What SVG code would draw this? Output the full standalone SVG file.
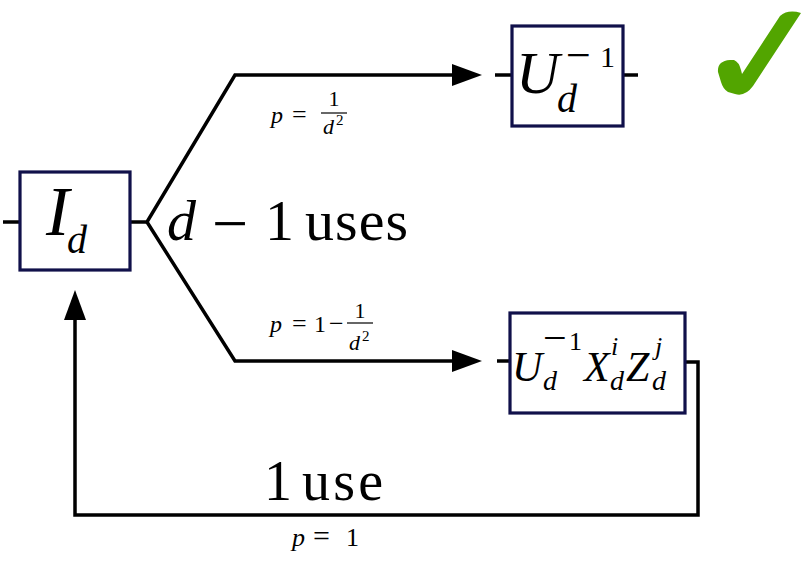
<svg xmlns="http://www.w3.org/2000/svg" width="810" height="563" viewBox="0 0 810 563">
<style>
.box{fill:#fff;stroke:#10104a;stroke-width:3.2}
.ln{fill:none;stroke:#000;stroke-width:3.5}
.it{font-family:"Liberation Serif",serif;font-style:italic;fill:#000}
.rm{font-family:"Liberation Serif",serif;fill:#000}
.bar{stroke:#000;stroke-width:1.2}
</style>
<defs>
<marker id="ah" markerUnits="userSpaceOnUse" viewBox="0 0 30 22" refX="4" refY="11" markerWidth="30" markerHeight="22" orient="auto">
<path d="M0,0 L30,11 L0,22 Z" fill="#000"/>
</marker>
</defs>
<rect width="810" height="563" fill="#fff"/>
<g id="connectors">
<path class="ln" d="M3 222 H20"/>
<path class="ln" d="M130 222 H147 L235 75 H456" marker-end="url(#ah)"/>
<path class="ln" d="M147 222 L235 361 H456" marker-end="url(#ah)"/>
<path class="ln" d="M495 75 H512"/>
<path class="ln" d="M623 75 H638"/>
<path class="ln" d="M497 361 H510"/>
<path class="ln" d="M685 362 H698 V515 H75 V316" marker-end="url(#ah)"/>
</g>
<g id="node-Id">
<rect class="box" x="20" y="172" width="110" height="98"/>
<text class="it" x="46" y="235" font-size="70">I</text>
<text class="it" x="67" y="253" font-size="40">d</text>
</g>
<g id="node-Uinv">
<rect class="box" x="512" y="26" width="111" height="100"/>
<text class="it" x="516" y="93" font-size="60">U</text>
<text class="rm" x="566" y="70" font-size="44">−</text>
<text class="rm" x="600" y="67" font-size="30">1</text>
<text class="it" x="557" y="112" font-size="40">d</text>
</g>
<g id="node-UXZ">
<rect class="box" x="510" y="313" width="175" height="100"/>
<text class="it" x="512" y="381" font-size="42">U</text>
<text class="rm" x="543" y="352" font-size="42">−</text>
<text class="rm" x="569" y="350" font-size="26">1</text>
<text class="it" x="543" y="390" font-size="28">d</text>
<text class="it" x="584" y="381" font-size="42">X</text>
<text class="it" x="611" y="355" font-size="26">i</text>
<text class="it" x="610" y="390" font-size="28">d</text>
<text class="it" x="626" y="381" font-size="42">Z</text>
<text class="it" x="655" y="355" font-size="26">j</text>
<text class="it" x="652" y="390" font-size="28">d</text>
</g>
<g id="check">
<path fill="#52a500" d="M718 72 Q717 61 730 60 L734 60 Q739 62 741 70 L742 74 L780 16 Q788 9 801 13 L753 86 Q745 97 735 94 L728 92 Q723 89 721 82 Z"/>
</g>
<g id="labels">
<text class="it" x="167" y="240" font-size="58">d</text>
<text class="rm" x="212" y="245" font-size="64">−</text>
<text class="rm" x="265" y="240" font-size="58">1</text>
<text class="rm" x="305" y="240" font-size="58" textLength="103">uses</text>

<text class="it" x="271" y="123" font-size="24">p</text>
<text class="rm" x="292" y="123" font-size="26">=</text>
<text class="rm" x="334" y="106" font-size="22" text-anchor="middle">1</text>
<line class="bar" x1="321" y1="113" x2="347" y2="113"/>
<text class="it" x="323" y="134" font-size="22">d</text>
<text class="rm" x="336" y="125" font-size="15">2</text>

<text class="it" x="270" y="332" font-size="24">p</text>
<text class="rm" x="292" y="332" font-size="26">=</text>
<text class="rm" x="314" y="332" font-size="24">1</text>
<text class="rm" x="329" y="332" font-size="26">−</text>
<text class="rm" x="360" y="318" font-size="22" text-anchor="middle">1</text>
<line class="bar" x1="347" y1="323" x2="373" y2="323"/>
<text class="it" x="349" y="350" font-size="22">d</text>
<text class="rm" x="362" y="341" font-size="15">2</text>

<text class="rm" x="264" y="500" font-size="56">1</text>
<text class="rm" x="302" y="500" font-size="56" textLength="81">use</text>

<text class="it" x="292" y="546" font-size="26">p</text>
<text class="rm" x="313" y="546" font-size="30">=</text>
<text class="rm" x="346" y="546" font-size="26">1</text>
</g>
</svg>
